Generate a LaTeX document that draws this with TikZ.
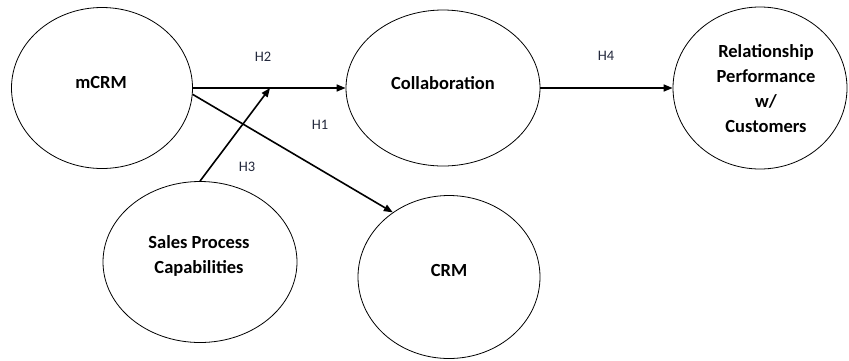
\documentclass[tikz,border=0pt]{standalone}
\usepackage{fontspec}
\setmainfont{Carlito}
\usetikzlibrary{shapes.geometric,arrows.meta}
\definecolor{hlab}{RGB}{35,40,60}
\tikzset{
  oval/.style={draw, ellipse, line width=0.8pt, inner sep=0pt},
  ttl/.style={font=\bfseries\fontsize{18.5}{25}\selectfont, align=center, inner sep=0pt},
  hyp/.style={font=\fontsize{14.5}{16}\selectfont, text=hlab, inner sep=0pt},
  path/.style={line width=1.6pt, -{Triangle[length=9pt,width=7pt]}}
}
\begin{document}
\begin{tikzpicture}[x=1pt,y=-1pt]
\useasboundingbox (0,0) rectangle (849,360);
% ellipses
\node[oval, minimum width=181pt, minimum height=161pt] (mcrm) at (102,88) {};
\node[oval, minimum width=194pt, minimum height=156pt] (collab) at (443,88) {};
\node[oval, minimum width=174pt, minimum height=162pt] (rel) at (760,88) {};
\node[oval, minimum width=194pt, minimum height=161pt] (sales) at (200,262) {};
\node[oval, minimum width=182pt, minimum height=163pt] (crm) at (449,277) {};
% texts
\node[ttl] (tm) at (101,82) {mCRM};
\node[ttl] (tc) at (443,83) {Collaboration};
\node[ttl] (tr) at (766,89) {Relationship\\Performance\\w/\\Customers};
\node[ttl] (ts) at (199,256) {Sales Process\\Capabilities};
\node[ttl] (tcrm) at (449,270) {CRM};
% connectors
\coordinate (h3end) at (270,88);
\draw[path] (mcrm.east) -- (collab.west);
\draw[path] (sales.north) -- (h3end);
\draw[path] (mcrm.-4) -- (crm.131);
\draw[path] (collab.east) -- (rel.west);
% labels
\node[hyp] (lh2) at (263,57) {H2};
\node[hyp] (lh1) at (320,125) {H1};
\node[hyp] (lh3) at (247,167) {H3};
\node[hyp] (lh4) at (606,56) {H4};
\end{tikzpicture}
\end{document}
